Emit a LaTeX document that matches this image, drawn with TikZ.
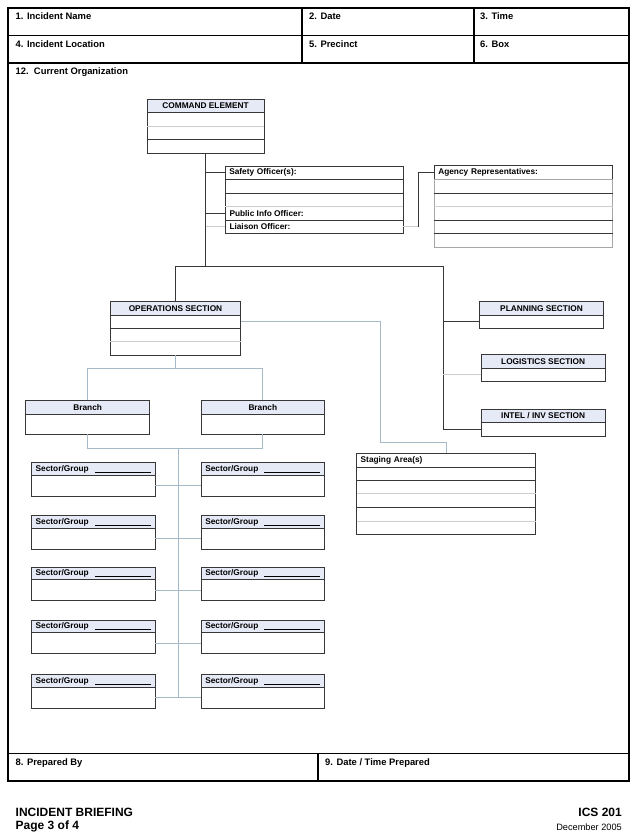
\documentclass[tikz,border=0pt]{standalone}
\usepackage{fontspec}
\setmainfont{Liberation Sans}
\usetikzlibrary{positioning,calc}
\definecolor{hdrfill}{RGB}{230,234,246}
\definecolor{dkline}{RGB}{55,55,55}
\definecolor{ltline}{RGB}{205,205,205}
\definecolor{bluegray}{RGB}{165,185,198}
\newcommand{\fillline}{\rule[-1.2pt]{56pt}{0.5pt}}

\begin{document}
\begin{tikzpicture}[x=1pt,y=-1pt,
  frame/.style={line width=1.6pt},
  formlbl/.style={anchor=west, inner sep=0pt, font=\fontsize{9.4}{10}\selectfont\bfseries},
  boxtxt/.style={anchor=west, inner sep=0pt, font=\fontsize{8.3}{9}\selectfont\bfseries},
  hdr/.style={draw=dkline, line width=0.7pt, fill=hdrfill, inner sep=0pt, outer sep=0pt,
    anchor=north west, font=\fontsize{8.3}{9}\selectfont\bfseries},
  hdrleft/.style={hdr, align=left, inner xsep=4pt},
  body/.style={draw=dkline, line width=0.7pt, inner sep=0pt, outer sep=0pt},
  link/.style={draw=dkline, line width=0.7pt},
  pale/.style={draw=bluegray, line width=0.7pt},
  faint/.style={draw=ltline, line width=0.7pt},
  rowlt/.style={draw=ltline, line width=0.6pt},
  rowdk/.style={draw=dkline, line width=0.7pt}]
\useasboundingbox (0,0) rectangle (637,837);

% form frame
\draw[frame] (8,8) rectangle (629,781);
\draw[frame] (8,35.5) -- (629,35.5);
\draw[frame] (8,63) -- (629,63);
\draw[frame] (302,8) -- (302,63);
\draw[frame] (474,8) -- (474,63);
\draw[frame] (8,753.5) -- (629,753.5);
\draw[frame] (318,753.5) -- (318,781);

\node[formlbl] (f1) at (15.5,16.5) {1. Incident Name};
\node[formlbl] (f2) at (309,16.5) {2. Date};
\node[formlbl] (f3) at (480,16.5) {3. Time};
\node[formlbl] (f4) at (15.5,44) {4. Incident Location};
\node[formlbl] (f5) at (309,44) {5. Precinct};
\node[formlbl] (f6) at (480,44) {6. Box};
\node[formlbl] (f12) at (15.5,72) {12.\ \ Current Organization};
\node[formlbl] (f8) at (15.5,763) {8. Prepared By};
\node[formlbl] (f9) at (325,763) {9. Date / Time Prepared};

% command element
\node[hdr, minimum width=117pt, minimum height=13pt] (cmdh) at (147,99) {COMMAND ELEMENT};
\node[body, minimum width=117pt, minimum height=41pt, below=0pt of cmdh] (cmd) {};
\draw[rowlt] (cmd.west |- 0,126) -- (cmd.east |- 0,126);
\draw[rowdk] (cmd.west |- 0,139.5) -- (cmd.east |- 0,139.5);

% safety / info / liaison
\node[hdrleft, fill=white, text width=170pt, minimum height=13pt] (safh) at (225.3,166.3) {Safety Officer(s):};
\node[body, minimum width=178pt, minimum height=54pt, below=0pt of safh] (saf) {};
\draw[rowdk] (saf.west |- 0,193.3) -- (saf.east |- 0,193.3);
\draw[rowlt] (saf.west |- 0,206.7) -- (saf.east |- 0,206.7);
\draw[rowdk] (saf.west |- 0,220) -- (saf.east |- 0,220);
\node[boxtxt] (pio) at (229.3,213.3) {Public Info Officer:};
\node[boxtxt] (lio) at (229.3,226.7) {Liaison Officer:};

% agency representatives
\node[hdrleft, fill=white, text width=170.4pt, minimum height=13.6pt] (agh) at (434.3,165.7) {Agency Representatives:};
\node[body, draw=gray!70, minimum width=178.4pt, minimum height=68pt, below=0pt of agh] (ag) {};
\draw[rowdk] (ag.west |- 0,193.3) -- (ag.east |- 0,193.3);
\draw[rowlt] (ag.west |- 0,206.7) -- (ag.east |- 0,206.7);
\draw[rowdk] (ag.west |- 0,220) -- (ag.east |- 0,220);
\draw[rowdk] (ag.west |- 0,233.3) -- (ag.east |- 0,233.3);

% sections
\node[hdr, minimum width=130.4pt, minimum height=14pt] (opsh) at (110.3,301.3) {OPERATIONS SECTION};
\node[body, minimum width=130.4pt, minimum height=40pt, below=0pt of opsh] (ops) {};
\draw[rowdk] (ops.west |- 0,328.3) -- (ops.east |- 0,328.3);
\draw[rowlt] (ops.west |- 0,341.7) -- (ops.east |- 0,341.7);

\node[hdr, minimum width=124.4pt, minimum height=13.7pt] (planh) at (479.3,301.3) {PLANNING SECTION};
\node[body, minimum width=124.4pt, minimum height=13.3pt, below=0pt of planh] (plan) {};
\node[hdr, minimum width=124.3pt, minimum height=13.6pt] (logih) at (481,354.7) {LOGISTICS SECTION};
\node[body, minimum width=124.3pt, minimum height=12.7pt, below=0pt of logih] (logi) {};
\node[hdr, minimum width=124.3pt, minimum height=13.4pt] (intelh) at (481,409.3) {INTEL / INV SECTION};
\node[body, minimum width=124.3pt, minimum height=13.3pt, below=0pt of intelh] (intel) {};

% staging
\node[hdrleft, fill=white, text width=171pt, minimum height=14pt] (stgh) at (356.7,453.3) {Staging Area(s)};
\node[body, minimum width=179pt, minimum height=67pt, below=0pt of stgh] (stg) {};
\draw[rowdk] (stg.west |- 0,480.3) -- (stg.east |- 0,480.3);
\draw[rowlt] (stg.west |- 0,493.3) -- (stg.east |- 0,493.3);
\draw[rowdk] (stg.west |- 0,507.3) -- (stg.east |- 0,507.3);
\draw[rowlt] (stg.west |- 0,521) -- (stg.east |- 0,521);

% branches
\node[hdr, minimum width=124pt, minimum height=14pt] (brLh) at (25.7,400.3) {Branch};
\node[body, minimum width=124pt, minimum height=20pt, below=0pt of brLh] (brL) {};
\node[hdr, minimum width=123pt, minimum height=14pt] (brRh) at (201.3,400.3) {Branch};
\node[body, minimum width=123pt, minimum height=20pt, below=0pt of brRh] (brR) {};

% sector / group boxes
\foreach \i/\t in {1/462.7,2/515.7,3/567.3,4/620.3,5/674.7} {
  \node[hdrleft, text width=115.6pt, minimum height=12.5pt] (sLh\i) at (31.7,\t) {Sector/Group\hfill\fillline};
  \node[body, minimum width=123.6pt, minimum height=20.8pt, below=0pt of sLh\i] (sL\i) {};
  \node[hdrleft, text width=115pt, minimum height=12.5pt] (sRh\i) at (201.3,\t) {Sector/Group\hfill\fillline};
  \node[body, minimum width=123pt, minimum height=20.8pt, below=0pt of sRh\i] (sR\i) {};
  \draw[pale] (sL\i.east) -- (sR\i.west);
}

% connectors
\coordinate (bus) at (443.3,266.7);
\draw[link] (cmd.south) -- (cmd.south |- bus);
\draw[link] (cmd.south |- safh) -- (safh.west);
\draw[link] (cmd.south |- pio) -- (pio -| saf.west);
\draw[faint] (cmd.south |- lio) -- (lio -| saf.west);
\coordinate (lojog) at ($(lio -| saf.east)+(15,0)$);
\draw[faint] (lio -| saf.east) -- (lojog);
\draw[link] (lojog) |- (agh.west);

\draw[link] (opsh.north) |- (bus) -- (bus |- intel) -- (intel.west);
\draw[link] (bus |- plan) -- (plan.west);
\draw[faint] (bus |- logi) -- (logi.west);

\coordinate (opsrow) at ($(ops.north east)+(0,6.5)$);
\coordinate (stgjog) at ($(stgh.north)+(0,-11)$);
\draw[pale] (opsrow) -- (opsrow -| 380,0) |- (stgjog) -- (stgh.north);

\coordinate (opsfork) at ($(ops.south)+(0,13)$);
\draw[pale] (ops.south) -- (opsfork);
\draw[pale] (brLh.north) |- (opsfork) -| (brRh.north);
\coordinate (brfork) at ($(brL.south)+(0,14)$);
\draw[pale] (brL.south) -- (brfork) -| (brR.south);
\coordinate (spine) at ($(sL1.east)!0.5!(sR1.west)$);
\draw[pale] (spine |- brfork) -- (spine |- sL5.east);

% footer
\node[anchor=west, inner sep=0pt, font=\fontsize{12}{13}\selectfont\bfseries] (ttl) at (15.5,812) {INCIDENT BRIEFING};
\node[anchor=west, inner sep=0pt, font=\fontsize{12}{13}\selectfont\bfseries] (pg) at (15.5,826) {Page 3 of 4};
\node[anchor=east, inner sep=0pt, font=\fontsize{12}{13}\selectfont\bfseries] (ics) at (622,812) {ICS 201};
\node[anchor=east, inner sep=0pt, font=\fontsize{9.2}{10}\selectfont] (dt) at (622,827) {December 2005};
\end{tikzpicture}
\end{document}
